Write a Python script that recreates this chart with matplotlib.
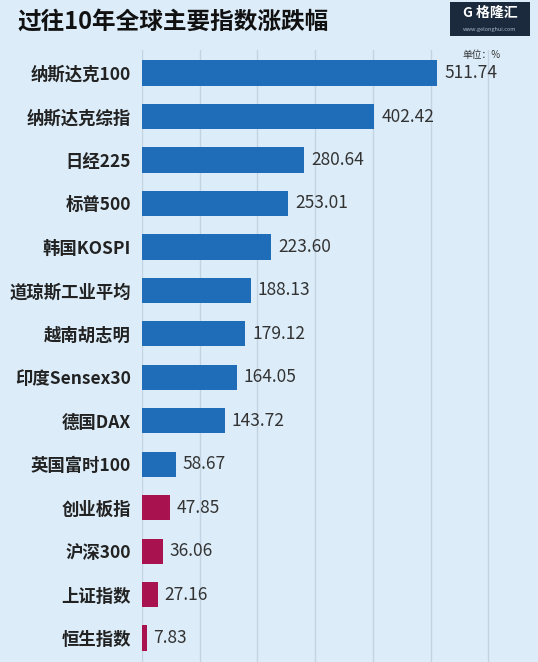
import matplotlib
matplotlib.use("Agg")
import matplotlib.pyplot as plt
from matplotlib.patches import FancyBboxPatch

plt.rcParams['font.family'] = ['Noto Sans CJK SC', 'DejaVu Sans']

categories = ["纳斯达克100", "纳斯达克综指", "日经225", "标普500", "韩国KOSPI", "道琼斯工业平均",
              "越南胡志明", "印度Sensex30", "德国DAX", "英国富时100", "创业板指", "沪深300",
              "上证指数", "恒生指数"]
values = [511.74, 402.42, 280.64, 253.01, 223.60, 188.13, 179.12, 164.05, 143.72, 58.67,
          47.85, 36.06, 27.16, 7.83]
groups = ["foreign"] * 10 + ["china"] * 4
colors_map = {"foreign": "#1f6db8", "china": "#a8124e"}
gridticks = [0, 100, 200, 300, 400, 500, 600]

bg = "#dcedf9"
W, H = 538, 662
fig = plt.figure(figsize=(W / 100, H / 100), dpi=100, facecolor=bg)
ax = fig.add_axes([142 / W, 0, 1 - 142 / W, (H - 50) / H], facecolor=bg)

n = len(categories)
ypos = list(range(n))
ax.barh(ypos, values, height=0.58, color=[colors_map[g] for g in groups], zorder=3)
ax.set_ylim(n - 0.45, -0.53)
ax.set_xlim(0, 686)
ax.set_xticks(gridticks)
ax.set_xticklabels([])
ax.tick_params(length=0)
ax.grid(axis="x", color="#c3d3e2", linewidth=1, zorder=0)
ax.set_yticks(ypos)
ax.set_yticklabels(categories, fontsize=12.5, fontweight="bold", color="#222222")
ax.tick_params(axis="y", pad=8)
for s in ax.spines.values():
    s.set_visible(False)
for y, v in zip(ypos, values):
    ax.text(v + 12, y, f"{v:.2f}", va="center", ha="left", fontsize=12.5, color="#333333", zorder=4)
fig.text(482 / W, 1 - 55 / H, "单位：%", fontsize=7, ha="center", va="center", color="#333333")

fig.text(18 / W, 1 - 22 / H, "过往10年全球主要指数涨跌幅", fontsize=17, fontweight="bold",
         va="center", ha="left", color="#111111")
fig.patches.append(FancyBboxPatch((450 / W, 1 - 36 / H), 80 / W, 34 / H, boxstyle="square,pad=0",
                                  transform=fig.transFigure, facecolor="#1b2a3d", edgecolor="none"))
fig.text(490 / W, 1 - 13 / H, "G 格隆汇", fontsize=10, fontweight="bold", color="white",
         ha="center", va="center")
fig.text(490 / W, 1 - 29 / H, "www.gelonghui.com", fontsize=4, color="#aabbcc",
         ha="center", va="center")
fig.savefig("out.png", dpi=100, facecolor=bg)
